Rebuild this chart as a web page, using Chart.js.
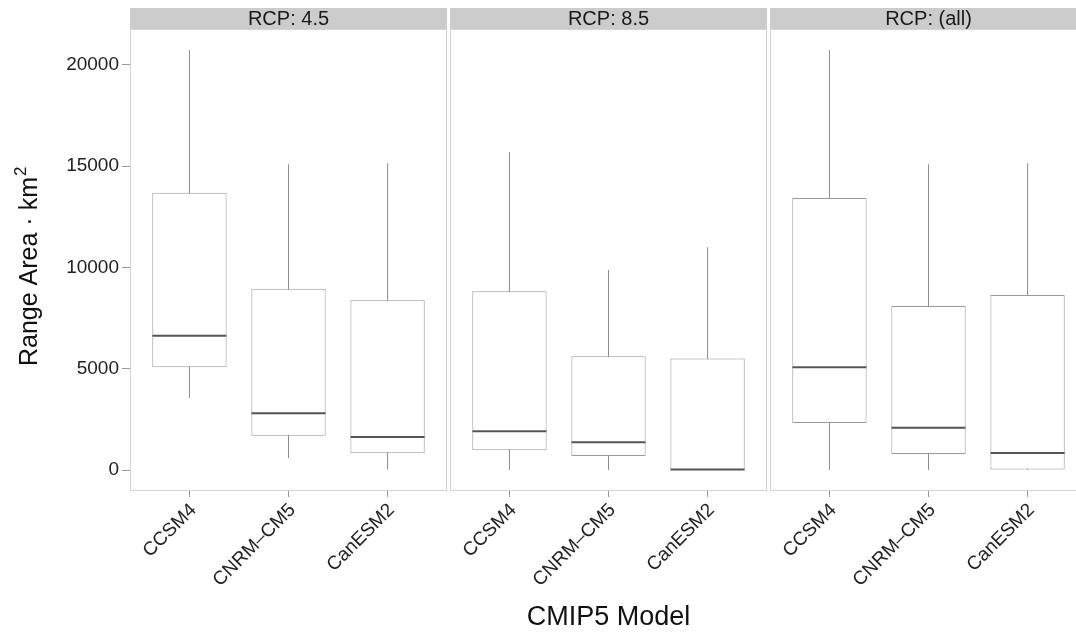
<!DOCTYPE html>
<html>
<head>
<meta charset="utf-8">
<title>Range area by CMIP5 model</title>
<script src="https://cdn.jsdelivr.net/npm/chart.js@4.4.0/dist/chart.umd.min.js"></script>
<style>
  html, body { margin: 0; padding: 0; background: #fff; overflow: hidden; }
  #wrap { position: relative; width: 1076px; height: 634px; overflow: hidden; }
  #wrap canvas { position: absolute; top: 0; }
</style>
</head>
<body>
<div id="wrap">
  <canvas id="rcp45" width="447" height="634" style="left:0"></canvas>
  <canvas id="rcp85" width="317" height="634" style="left:450px"></canvas>
  <canvas id="rcpAll" width="317" height="634" style="left:770px"></canvas>
</div>
<script>
const models = ['CCSM4', 'CNRM–CM5', 'CanESM2']
const scenarios = ['RCP: 4.5', 'RCP: 8.5', 'RCP: (all)']

// box stats per scenario, one value per model (km²)
const whiskerLow = [[3550, 580, 0], [0, 0, 0], [0, 0, 0]]
const quartileLow = [[5070, 1690, 830], [970, 690, 0], [2320, 790, 30]]
const medians = [[6630, 2800, 1630], [1910, 1370, 20], [5070, 2090, 840]]
const quartileHigh = [[13690, 8950, 8380], [8830, 5620, 5500], [13430, 8100, 8640]]
const whiskerHigh = [[20740, 15100, 15150], [15700, 9880, 11000], [20740, 15100, 15150]]

const yTicks = [0, 5000, 10000, 15000, 20000]
const yMin = -1037
const yMax = 21777

const fontFamily = "'Liberation Sans', Arial, sans-serif"
Chart.defaults.font.family = fontFamily
Chart.defaults.color = '#1a1a1a'

// grey facet strip above the panel, the thin panel frame and (first panel only) the y title
const facet = {
    id: 'facet',
    beforeDraw(chart, args, opts) {
        const { ctx, chartArea: a } = chart
        ctx.save()
        ctx.fillStyle = '#cccccc'
        ctx.fillRect(a.left, 8, a.right - a.left, a.top - 8)
        ctx.fillStyle = '#1a1a1a'
        ctx.font = `20px ${fontFamily}`
        ctx.textAlign = 'center'
        ctx.textBaseline = 'middle'
        ctx.fillText(opts.label, (a.left + a.right) / 2, 19)

        if (opts.yTitle) {
            // rotated title with a raised "2" for km squared
            ctx.translate(37, 366)
            ctx.rotate(-Math.PI / 2)
            ctx.textAlign = 'left'
            ctx.textBaseline = 'alphabetic'
            ctx.fillStyle = '#111111'
            ctx.font = `25px ${fontFamily}`
            ctx.fillText(opts.yTitle, 0, 0)
            const w = ctx.measureText(opts.yTitle).width
            ctx.font = `17px ${fontFamily}`
            ctx.fillText('2', w + 1, -11)
        }
        ctx.restore()
    },
    afterDraw(chart) {
        const { ctx, chartArea: a } = chart
        ctx.save()
        ctx.strokeStyle = '#d4d4d4'
        ctx.lineWidth = 1
        ctx.strokeRect(a.left + 0.5, a.top + 0.5, a.right - a.left - 1, a.bottom - a.top - 1)
        ctx.restore()
    }
}

function makePanel(id, p, showY, showXTitle) {
    const pos = models.map((m, i) => i + 1)

    const data = {
        datasets: [
            {
                type: 'line',
                label: 'median',
                data: pos.map((x, i) => ({ x: x, y: medians[p][i] })),
                showLine: false,
                pointStyle: 'line',
                pointRadius: 37,
                pointBorderWidth: 2,
                pointBorderColor: '#555555'
            },
            {
                type: 'bar',
                label: 'box',
                data: pos.map((x, i) => ({ x: x, y: [quartileLow[p][i], quartileHigh[p][i]] })),
                grouped: false,
                categoryPercentage: 1,
                barPercentage: 0.75,
                backgroundColor: '#ffffff',
                borderColor: '#999999',
                borderWidth: 1,
                borderSkipped: false
            },
            {
                type: 'bar',
                label: 'whisker',
                data: pos.map((x, i) => ({ x: x, y: [whiskerLow[p][i], whiskerHigh[p][i]] })),
                grouped: false,
                maxBarThickness: 1,
                backgroundColor: '#8c8c8c',
                borderWidth: 0
            }
        ]
    }

    return new Chart(document.getElementById(id), {
        type: 'bar',
        data: data,
        plugins: [facet],
        options: {
            responsive: false,
            animation: false,
            events: [],
            layout: { padding: { top: 29, left: 0, right: 0, bottom: 0 }, autoPadding: false },
            plugins: {
                legend: { display: false },
                tooltip: { enabled: false },
                facet: { label: scenarios[p], yTitle: showY ? 'Range Area · km' : null }
            },
            scales: {
                x: {
                    type: 'linear',
                    min: 0.4,
                    max: 3.6,
                    offset: false,
                    afterBuildTicks: axis => { axis.ticks = pos.map(v => ({ value: v })) },
                    afterFit: axis => { axis.height = 143 },
                    grid: { offset: false, drawOnChartArea: false, tickLength: 6, color: '#999999' },
                    border: { display: false },
                    ticks: {
                        autoSkip: false,
                        minRotation: 45,
                        maxRotation: 45,
                        padding: 2,
                        labelOffset: 4,
                        font: { size: 19 },
                        color: '#222222',
                        callback: v => models[v - 1]
                    },
                    title: { display: showXTitle, text: 'CMIP5 Model', font: { size: 27 }, color: '#111111', padding: 0 }
                },
                y: {
                    min: yMin,
                    max: yMax,
                    display: showY,
                    afterBuildTicks: axis => { axis.ticks = yTicks.map(v => ({ value: v })) },
                    afterFit: axis => { if (showY) axis.width = 130 },
                    grid: { drawOnChartArea: false, tickLength: 8, color: '#999999' },
                    border: { display: false },
                    ticks: { padding: 3, font: { size: 19 }, color: '#222222', callback: v => String(v) }
                }
            }
        }
    })
}

makePanel('rcp45', 0, true, false)
makePanel('rcp85', 1, false, true)
makePanel('rcpAll', 2, false, false)
</script>
</body>
</html>
